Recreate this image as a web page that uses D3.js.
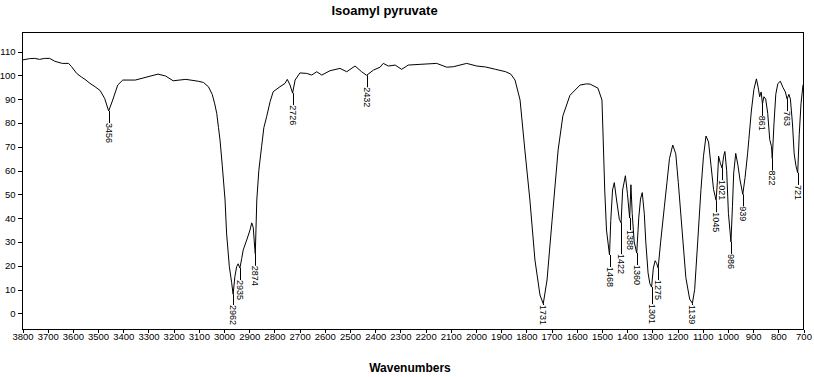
<!DOCTYPE html>
<html lang="en">
<head>
  <meta charset="UTF-8">
  <title>Isoamyl pyruvate</title>
  <script src="https://d3js.org/d3.v7.min.js"></script>
  <style>
    body { margin: 0; background: #fff; }
    svg { display: block; font-family: "Liberation Sans", Arial, sans-serif; }
    .tick-label { font-size: 9.5px; fill: #000; }
    .peak-label { font-size: 9px; fill: #000; }
    .title { font-size: 13px; font-weight: bold; }
    .axis-title { font-size: 12px; font-weight: bold; }
  </style>
</head>
<body>
  <svg width="814" height="377"></svg>

  <script>
    // spectrum (cm-1, %T)
    const wavenumbers = [
      3800, 3770, 3750, 3730, 3710, 3690, 3670, 3640, 3615, 3603, 3583, 3563, 3550, 3530, 3510, 3490, 3472, 3456, 3440, 3420,
      3400, 3350, 3300, 3260, 3230, 3200, 3150, 3100, 3080, 3060, 3045, 3035, 3027, 3020, 3014, 3005, 2994, 2988, 2977, 2968,
      2962, 2955, 2948, 2942, 2935, 2928, 2922, 2908, 2895, 2888, 2882, 2878, 2874, 2868, 2860, 2849, 2840, 2829, 2815, 2803,
      2776, 2756, 2747, 2736, 2726, 2716, 2697, 2670, 2650, 2630, 2610, 2578, 2538, 2511, 2478, 2452, 2432, 2405, 2379, 2366,
      2346, 2319, 2293, 2267, 2220, 2154, 2114, 2088, 2035, 1995, 1960, 1920, 1880, 1860, 1843, 1823, 1804, 1784, 1764, 1744,
      1731, 1716, 1696, 1672, 1653, 1625, 1585, 1560, 1545, 1514, 1498, 1493, 1487, 1480, 1468, 1463, 1456, 1449, 1440, 1429,
      1422, 1416, 1405, 1397, 1388, 1383, 1378, 1370, 1360, 1352, 1345, 1338, 1330, 1324, 1315, 1308, 1301, 1294, 1287, 1281,
      1275, 1265, 1250, 1240, 1230, 1217, 1205, 1195, 1180, 1165, 1150, 1139, 1130, 1118, 1105, 1095, 1085, 1075, 1065, 1055,
      1045, 1040, 1035, 1028, 1021, 1015, 1010, 1003, 996, 986, 980, 975, 967, 958, 950, 939, 930, 920, 915, 905,
      895, 885, 878, 872, 866, 861, 855, 848, 840, 832, 825, 822, 815, 808, 800, 790, 780, 770, 763, 756,
      750, 742, 735, 728, 721, 715, 708, 700
    ];
    const transmittance = [
      106.4, 107.0, 107.1, 106.7, 107.1, 107.1, 105.9, 105.0, 105.0, 103.6, 100.8, 99.2, 98.3, 96.6, 95.2, 93.6, 90.3, 85.0, 89.6, 95.9,
      98.0, 98.0, 99.4, 100.5, 99.7, 97.7, 98.3, 97.5, 97.0, 95.2, 92.0, 88.0, 84.0, 78.0, 72.8, 62.0, 47.6, 33.7, 19.6, 13.0,
      8.0, 15.4, 19.6, 20.8, 19.0, 23.0, 26.6, 30.8, 35.0, 38.0, 36.0, 30.0, 25.0, 47.6, 60.0, 70.0, 78.0, 82.6, 89.0, 93.1,
      95.2, 96.6, 98.3, 95.9, 92.5, 98.0, 101.0, 100.8, 100.1, 101.5, 100.1, 101.9, 102.9, 101.5, 103.9, 101.5, 100.0, 102.2, 103.4, 105.0,
      103.9, 104.3, 102.5, 104.3, 104.6, 105.0, 103.4, 103.6, 105.0, 103.9, 103.5, 102.5, 101.5, 100.5, 98.0, 89.6, 68.6, 47.6, 22.4, 7.7,
      4.0, 14.0, 39.0, 68.6, 83.0, 91.6, 95.9, 96.4, 96.3, 94.6, 89.6, 72.8, 51.8, 35.0, 24.5, 39.0, 51.8, 54.9, 47.6, 39.5,
      38.0, 51.8, 57.8, 50.4, 40.0, 54.0, 42.0, 30.0, 25.3, 40.0, 48.0, 50.7, 42.0, 30.0, 17.0, 12.5, 11.0, 19.0, 22.1, 21.0,
      19.0, 30.0, 45.0, 55.0, 65.0, 70.7, 67.0, 55.0, 35.0, 15.0, 6.0, 4.2, 10.0, 30.0, 52.0, 66.0, 74.5, 72.0, 62.0, 52.0,
      47.5, 55.0, 66.0, 63.0, 61.0, 66.0, 68.0, 60.0, 42.0, 30.0, 45.0, 59.0, 67.2, 62.0, 56.0, 50.0, 57.0, 67.0, 73.0, 85.0,
      94.0, 98.5, 95.0, 91.0, 93.0, 88.0, 91.0, 90.0, 84.0, 73.0, 70.0, 65.0, 80.0, 92.0, 96.5, 97.5, 95.0, 93.0, 90.0, 92.0,
      90.0, 80.0, 67.0, 62.0, 59.0, 75.0, 88.0, 96.0
    ];
    const peakLabels = [3456, 2962, 2935, 2874, 2726, 2432, 1731, 1468, 1422, 1388, 1360, 1301, 1275, 1139, 1045, 1021, 986, 939, 861, 822, 763, 721];
    const xTicks = d3.range(3800, 699, -100);
    const yTicks = d3.range(0, 111, 10);

    const frame = { left: 22, right: 803, top: 32, bottom: 329 };
    const svg = d3.select("svg");

    const x = d3.scaleLinear().domain([3800, 700]).range([frame.left, frame.right]);
    const y = d3.scaleLinear().domain([0, 110]).range([313.3, 51.5]);

    const data = wavenumbers.map((w, i) => ({ w, t: transmittance[i] }));

    // title
    svg.append("text").attr("class", "title")
      .attr("x", 384.5).attr("y", 14.5)
      .attr("text-anchor", "middle")
      .text("Isoamyl pyruvate");

    // frame
    svg.append("rect")
      .attr("x", frame.left + 0.5).attr("y", frame.top + 0.5)
      .attr("width", frame.right - frame.left).attr("height", frame.bottom - frame.top)
      .attr("fill", "none").attr("stroke", "#000").attr("stroke-width", 1)
      .attr("shape-rendering", "crispEdges");

    // x axis
    const xAxis = d3.axisBottom(x).tickValues(xTicks).tickFormat(d3.format("d"))
      .tickSize(3).tickSizeOuter(0).tickPadding(1);
    const gx = svg.append("g").attr("transform", `translate(0.5, ${frame.bottom + 0.5})`).call(xAxis);
    gx.select(".domain").remove();
    gx.selectAll("text").attr("class", "tick-label").attr("font-family", null).attr("font-size", null);
    gx.selectAll("line").attr("shape-rendering", "crispEdges");

    // y axis
    const yAxis = d3.axisLeft(y).tickValues(yTicks).tickFormat(d3.format("d"))
      .tickSize(5).tickSizeOuter(0).tickPadding(2);
    const gy = svg.append("g").attr("transform", `translate(${frame.left + 0.5}, 0)`).call(yAxis);
    gy.select(".domain").remove();
    gy.selectAll("text").attr("class", "tick-label").attr("font-family", null).attr("font-size", null);
    gy.selectAll("line").attr("shape-rendering", "crispEdges");

    svg.append("text").attr("class", "axis-title")
      .attr("x", 410).attr("y", 372)
      .attr("text-anchor", "middle")
      .text("Wavenumbers");

    // spectrum
    svg.append("path")
      .datum(data)
      .attr("fill", "none")
      .attr("stroke", "#000")
      .attr("stroke-width", 1)
      .attr("d", d3.line().x(d => x(d.w)).y(d => y(d.t)));

    // peak labels: vertical line from the band tip, rotated text below it
    const bis = d3.bisector(d => -d.w).left;
    function tAt(w) {
      const i = bis(data, -w);
      if (i <= 0) return data[0].t;
      if (i >= data.length) return data[data.length - 1].t;
      const a = data[i - 1], b = data[i];
      return a.t + (b.t - a.t) * (w - a.w) / (b.w - a.w);
    }

    const peaks = peakLabels.map(w => ({ w, px: x(w), tip: y(tAt(w)), len: String(w).length * 5 }))
      .sort((a, b) => a.tip - b.tip);
    const placed = [];
    peaks.forEach(p => {
      let top = p.tip + 12;
      let moved = true;
      while (moved) {
        moved = false;
        placed.forEach(q => {
          if (Math.abs(q.px - p.px) < 10 && top < q.top + q.len + 4 && top + p.len > q.top - 2) {
            top = q.top + q.len + 4;
            moved = true;
          }
        });
      }
      if (top + p.len > frame.bottom - 4) top = frame.bottom - 4 - p.len;
      p.top = top;
      placed.push(p);
    });

    const gl = svg.append("g");
    placed.forEach(p => {
      const px = Math.round(p.px) + 0.5;
      gl.append("line")
        .attr("x1", px).attr("x2", px)
        .attr("y1", p.tip).attr("y2", p.top)
        .attr("stroke", "#000").attr("stroke-width", 1);
      gl.append("text").attr("class", "peak-label")
        .attr("transform", `translate(${px}, ${p.top}) rotate(90)`)
        .attr("dy", "0.35em")
        .text(p.w);
    });
  </script>
</body>
</html>
